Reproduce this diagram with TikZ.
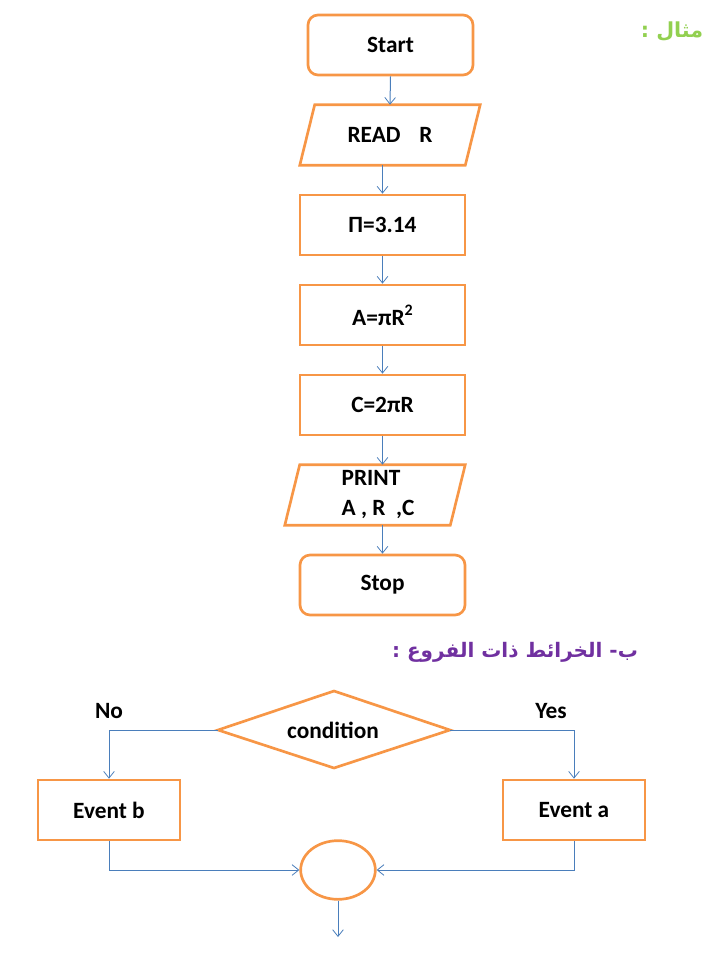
\documentclass[tikz,border=0pt]{standalone}
\usepackage{fontspec}
\setmainfont{Carlito}
\newfontfamily\arabicfont[Script=Arabic]{DejaVu Sans}
\TeXXeTstate=1
\usetikzlibrary{shapes.geometric,arrows.meta}
\definecolor{orng}{HTML}{F79646}
\definecolor{blu}{HTML}{4A7EBB}
\definecolor{grn}{HTML}{92D050}
\definecolor{purp}{HTML}{7030A0}
\begin{document}
\begin{tikzpicture}[x=0.75pt,y=-0.75pt,
  every node/.style={font=\fontsize{17.5}{22.5}\selectfont\bfseries},
  box/.style={draw=orng,line width=2pt,minimum width=123.75pt,minimum height=45pt,inner sep=0pt},
  term/.style={box,rounded corners=7.5pt},
  plain/.style={minimum width=123.75pt,minimum height=45pt,inner sep=0pt},
  ev/.style={box,minimum width=106.5pt},
  oline/.style={draw=orng,line width=2pt,line join=miter},
  conn/.style={draw=blu,line width=0.75pt,-{Straight Barb[length=5pt,width=8pt,line width=0.6pt]}},
  lbl/.style={font=\fontsize{17.5}{20}\selectfont\bfseries}
]
\path[use as bounding box] (0,0) rectangle (720,960);
% top flowchart
\node[term] (start) at (390.5,45) {Start};
\node[plain] (read) at (390,135) {READ\hspace{14pt}R};
\draw[oline] ([xshift=5.6pt]read.north west) -- ([xshift=5.6pt]read.north east)
  -- ([xshift=-5.6pt]read.south east) -- ([xshift=-5.6pt]read.south west) -- cycle;
\node[box] (pi) at (382.5,225) {Π=3.14};
\node[box] (area) at (382.5,315) {A=πR\raisebox{0.42em}{\fontsize{12}{12}\selectfont 2}};
\node[box] (circ) at (382.5,405) {C=2πR};
\node[plain,align=left] (print) at (378,495) {PRINT\\ A , R~~,C};
\draw[oline] ([xshift=-2.25pt+5.6pt]print.north west) -- ([xshift=-2.25pt+5.6pt]print.north east)
  -- ([xshift=-2.25pt-5.6pt]print.south east) -- ([xshift=-2.25pt-5.6pt]print.south west) -- cycle;
\node[term] (stop) at (382.5,585) {Stop};
\draw[conn] (start.south) -- (read.north);
\draw[conn] (pi.north |- read.south) -- (pi.north);
\draw[conn] (pi.south) -- (area.north);
\draw[conn] (area.south) -- (circ.north);
\draw[conn] (circ.south) -- (circ.south |- print.north);
\draw[conn] (stop.north |- print.south) -- (stop.north);
% arabic labels
\node[text=grn,font=\arabicfont\fontsize{15.5}{18}\selectfont\bfseries] (mithal) at (672,32) {\beginR مثال :\endR};
\node[text=purp,font=\arabicfont\fontsize{15}{18}\selectfont\bfseries] (head) at (515,652) {\beginR ب- الخرائط ذات الفروع :\endR};
% branching chart
\node (cond) at (333,730) {condition};
\coordinate (dl) at (218,730);
\coordinate (dr) at (450,730);
\coordinate (dt) at (334,691);
\coordinate (db) at (334,768);
\draw[oline] (dl) -- (dt) -- (dr) -- (db) -- cycle;
\node[lbl] (no) at (109,711) {No};
\node[lbl] (yes) at (551,711) {Yes};
\node[ev] (evb) at (109,810) {Event b};
\node[ev] (eva) at (574,810) {Event a};
\node[draw=orng,line width=2pt,ellipse,minimum width=56pt,minimum height=44pt,inner sep=0pt] (join) at (338,870) {};
\coordinate (out) at (338,937);
\draw[conn] (dl) -| (evb.north);
\draw[conn] (dr) -| (eva.north);
\draw[conn] (evb.south) |- (join.west);
\draw[conn] (eva.south) |- (join.east);
\draw[conn] (join.south) -- (out);
\end{tikzpicture}
\end{document}
